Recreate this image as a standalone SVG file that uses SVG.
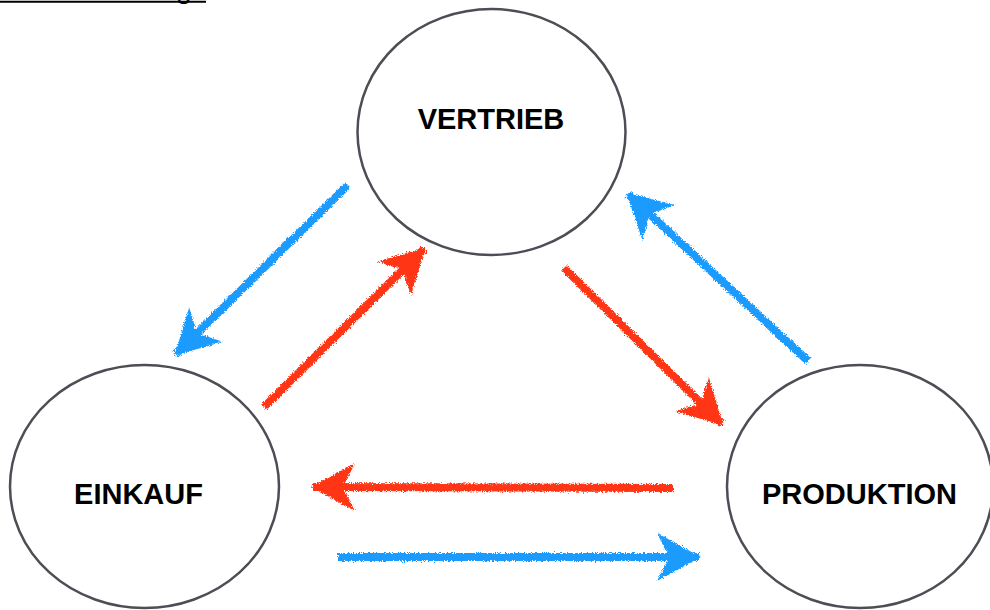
<svg xmlns="http://www.w3.org/2000/svg" width="990" height="610" viewBox="0 0 990 610">
<style>
.node ellipse{fill:#fff;stroke:#4b4e54;stroke-width:2.5}
.node text{font-family:"Liberation Sans",Arial,sans-serif;font-weight:bold;font-size:29px;fill:#000;text-anchor:middle}
.red{stroke:#ff3512;stroke-width:8;fill:none}
.blue{stroke:#1f9bff;stroke-width:8;fill:none}
</style>
<defs>
<filter id="crayon" filterUnits="userSpaceOnUse" x="0" y="0" width="990" height="610">
<feTurbulence type="fractalNoise" baseFrequency="0.9" numOctaves="2" seed="3" result="n"/>
<feDisplacementMap in="SourceGraphic" in2="n" scale="5" xChannelSelector="R" yChannelSelector="G" result="d"/>
<feGaussianBlur in="d" stdDeviation="0.6"/>
</filter>
<marker id="hr" markerUnits="userSpaceOnUse" orient="auto" refX="0" refY="0" markerWidth="60" markerHeight="60" overflow="visible">
<path d="M2,0 L-42,-24 L-34,-8 L-28,0 L-34,8 L-42,24 Z" fill="#ff3512"/>
</marker>
<marker id="hb" markerUnits="userSpaceOnUse" orient="auto" refX="0" refY="0" markerWidth="60" markerHeight="60" overflow="visible">
<path d="M2,0 L-42,-24 L-34,-8 L-28,0 L-34,8 L-42,24 Z" fill="#1f9bff"/>
</marker>
</defs>
<rect width="990" height="610" fill="#fff"/>
<g id="title">
<text x="176" y="-2" font-family="Liberation Sans,Arial,sans-serif" font-size="28" fill="#000">g</text>
<line x1="0" y1="1.7" x2="206" y2="1.7" stroke="#000" stroke-width="2"/>
</g>
<g id="connectors" filter="url(#crayon)">
<line class="blue" x1="348" y1="185" x2="176" y2="354" marker-end="url(#hb)"/>
<line class="red" x1="264" y1="407" x2="424" y2="249" marker-end="url(#hr)"/>
<line class="red" x1="564" y1="268" x2="722" y2="424" marker-end="url(#hr)"/>
<line class="blue" x1="808" y1="361" x2="628" y2="194" marker-end="url(#hb)"/>
<line class="red" x1="673" y1="488" x2="313" y2="487" marker-end="url(#hr)"/>
<line class="blue" x1="338" y1="557" x2="699" y2="557" marker-end="url(#hb)"/>
</g>
<g id="vertrieb" class="node">
<ellipse cx="491.5" cy="132" rx="134" ry="123"/>
<text x="491" y="129">VERTRIEB</text>
</g>
<g id="einkauf" class="node">
<ellipse cx="144.5" cy="486.5" rx="134.5" ry="121.5"/>
<text x="138.5" y="504">EINKAUF</text>
</g>
<g id="produktion" class="node">
<ellipse cx="860" cy="486.5" rx="133" ry="121.5"/>
<text x="859.5" y="504">PRODUKTION</text>
</g>
</svg>
